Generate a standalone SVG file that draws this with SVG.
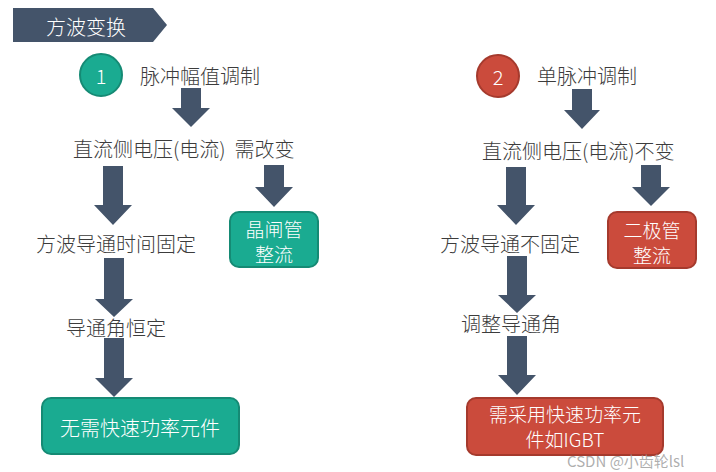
<svg xmlns="http://www.w3.org/2000/svg" width="716" height="472" viewBox="0 0 716 472">
<style>
.t{font-family:"Noto Sans CJK SC","Noto Sans",sans-serif;font-size:20px;font-weight:300;fill:#3c3c3c;dominant-baseline:central}
.w{font-family:"Noto Sans CJK SC","Noto Sans",sans-serif;font-size:20px;font-weight:300;fill:#ffffff;dominant-baseline:central;text-anchor:middle}
.b{font-size:19px}
.ar{fill:#44546a}
.teal{fill:#1aab91;stroke:#158a74;stroke-width:2}
.red{fill:#cb4b3c;stroke:#a53a2d;stroke-width:2}
.wm{font-family:"Noto Sans CJK SC","Noto Sans",sans-serif;font-size:15px;fill:#a0a0a0;fill-opacity:0.85;dominant-baseline:central}
</style>
<rect width="716" height="472" fill="#ffffff"/>
<g id="title">
<polygon points="13,8 153,8 167,25 153,42 13,42" fill="#44546a"/>
<text class="w" x="86" y="26">方波变换</text>
</g>
<g id="connectors">
<polygon class="ar" points="181,88 201,88 201,108 210,108 191,127 172,108 181,108"/>
<polygon class="ar" points="103,166 123,166 123,205 132,205 113,225 94,205 103,205"/>
<polygon class="ar" points="264,165 284,165 284,187 293,187 274,207 255,187 264,187"/>
<polygon class="ar" points="104,258 124,258 124,299 133,299 114,317 95,299 104,299"/>
<polygon class="ar" points="104,338 124,338 124,378 133,378 114,397 95,378 104,378"/>
<polygon class="ar" points="572,89 592,89 592,110 600,110 582,129 564,110 572,110"/>
<polygon class="ar" points="506,167 526,167 526,205 535,205 516,225 497,205 506,205"/>
<polygon class="ar" points="641,165 661,165 661,187 670,187 651,206 632,187 641,187"/>
<polygon class="ar" points="507,256 527,256 527,295 536,295 517,313 498,295 507,295"/>
<polygon class="ar" points="507,336 527,336 527,375 536,375 517,395 498,375 507,375"/>
</g>
<g id="n1">
<circle cx="101" cy="75" r="21" class="teal"/>
<text class="w" x="101" y="75">1</text>
</g>
<g id="pam"><text class="t" x="140" y="75">脉冲幅值调制</text></g>
<g id="dc1"><text class="t" x="73" y="148" xml:space="preserve">直流侧电压(电流)  需改变</text></g>
<g id="sq1"><text class="t" x="36" y="243">方波导通时间固定</text></g>
<g id="ang1"><text class="t" x="66" y="327">导通角恒定</text></g>
<g id="thy">
<rect class="teal" x="230" y="212" width="88" height="55" rx="9"/>
<text class="w b" x="274" y="228">晶闸管</text>
<text class="w b" x="274" y="253">整流</text>
</g>
<g id="nofast">
<rect class="teal" x="42" y="398" width="197" height="56" rx="9"/>
<text class="w" x="140" y="427">无需快速功率元件</text>
</g>
<g id="n2">
<circle cx="498" cy="76" r="21" class="red"/>
<text class="w" x="498" y="76">2</text>
</g>
<g id="spm"><text class="t" x="537" y="75">单脉冲调制</text></g>
<g id="dc2"><text class="t" x="482" y="150">直流侧电压(电流)不变</text></g>
<g id="sq2"><text class="t" x="440" y="243">方波导通不固定</text></g>
<g id="ang2"><text class="t" x="461" y="323">调整导通角</text></g>
<g id="diode">
<rect class="red" x="608" y="212" width="88" height="56" rx="9"/>
<text class="w b" x="652" y="229">二极管</text>
<text class="w b" x="652" y="254">整流</text>
</g>
<g id="fast">
<rect class="red" x="467" y="398" width="196" height="57" rx="9"/>
<text class="w b" x="565" y="413">需采用快速功率元</text>
<text class="w b" x="565" y="438">件如IGBT</text>
</g>
<text class="wm" x="567" y="460">CSDN @小齿轮lsl</text>
</svg>
